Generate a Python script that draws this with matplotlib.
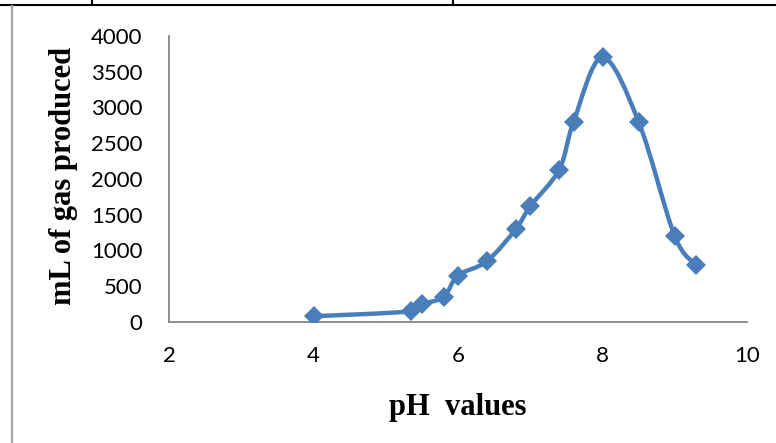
import numpy as np
import matplotlib.pyplot as plt
from matplotlib.path import Path
from matplotlib.patches import PathPatch
from matplotlib.lines import Line2D

# data
ph = [4.0, 5.35, 5.5, 5.8, 6.0, 6.4, 6.8, 7.0, 7.4, 7.6, 8.0, 8.5, 9.0, 9.3]
gas = [80, 150, 250, 350, 650, 850, 1300, 1620, 2130, 2800, 3700, 2800, 1200, 800]
xticks = [2, 4, 6, 8, 10]
yticks = [0, 500, 1000, 1500, 2000, 2500, 3000, 3500, 4000]

blue = '#4a7ebb'
grey = '#868686'


def smooth_path(x, y):
    # excel style smoothed line: cubic bezier, catmull-rom tangents
    pts = np.column_stack([x, y]).astype(float)
    n = len(pts)
    verts = [pts[0]]
    codes = [Path.MOVETO]
    for i in range(n - 1):
        p0 = pts[i - 1] if i > 0 else pts[i]
        p1 = pts[i]
        p2 = pts[i + 1]
        p3 = pts[i + 2] if i + 2 < n else pts[i + 1]
        c1 = p1 + (p2 - p0) / 6.0
        c2 = p2 - (p3 - p1) / 6.0
        verts += [c1, c2, p2]
        codes += [Path.CURVE4] * 3
    return Path(verts, codes)


fig = plt.figure(figsize=(7.76, 4.43), dpi=100)
ax = fig.add_axes([169 / 776, 1 - 322 / 443, (747 - 169) / 776, (322 - 36) / 443])

ax.add_patch(PathPatch(smooth_path(ph, gas), facecolor='none', edgecolor=blue,
                       lw=3.2, capstyle='round', joinstyle='round', zorder=3))
ax.plot(ph, gas, linestyle='none', marker='D', markersize=10,
        color=blue, markeredgewidth=0, zorder=4)

ax.set_xlim(2, 10)
ax.set_ylim(0, 4000)
ax.set_xticks(xticks)
ax.set_yticks(yticks)
ax.tick_params(length=0, labelsize=16)
ax.tick_params(axis='x', pad=17)
ax.tick_params(axis='y', pad=19)
for lab in ax.get_xticklabels() + ax.get_yticklabels():
    lab.set_fontfamily(['Lato', 'DejaVu Sans'])
for s in ['top', 'right']:
    ax.spines[s].set_visible(False)
for s in ['left', 'bottom']:
    ax.spines[s].set_color(grey)
    ax.spines[s].set_linewidth(1.3)

fig.text(458 / 776, 1 - 415 / 443, 'pH  values', ha='center', va='baseline',
         fontsize=22, fontweight='bold', family=['Liberation Serif', 'DejaVu Serif'])
fig.text(63 / 776, 1 - 176 / 443, 'mL of gas produced', ha='center', va='center',
         rotation=90, fontsize=22, fontweight='bold',
         family=['Liberation Serif', 'DejaVu Serif'])

# table borders around the chart
fig.add_artist(Line2D([0, 1], [1 - 5 / 443] * 2, color='black', lw=1.5,
                      transform=fig.transFigure))
for xp in [92, 453]:
    fig.add_artist(Line2D([xp / 776] * 2, [1, 1 - 5 / 443], color='black', lw=1.5,
                          transform=fig.transFigure))
fig.add_artist(Line2D([11.5 / 776] * 2, [1 - 6 / 443, 0], color='#a6a6a6', lw=1.6,
                      transform=fig.transFigure))

fig.savefig('out.png', dpi=100)
